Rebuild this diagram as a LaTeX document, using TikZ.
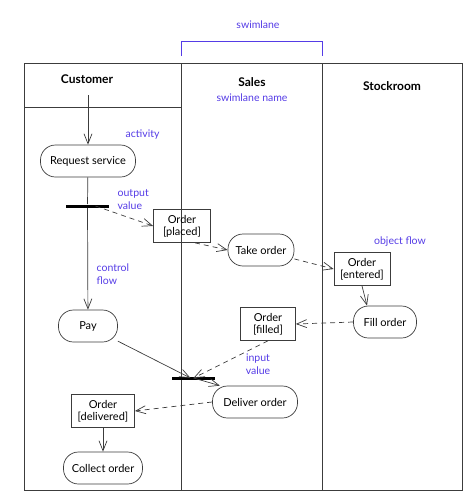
\documentclass[tikz,border=0pt]{standalone}
\usepackage{fontspec}
\setmainfont{Lato}
\usetikzlibrary{arrows.meta}
\definecolor{notecol}{RGB}{85,60,230}
\definecolor{linecol}{RGB}{60,60,60}
\tikzset{
    activity/.style={draw=linecol, rounded corners=15pt, minimum height=32pt, inner xsep=6pt, font=\fontsize{11}{13}\selectfont},
    objbox/.style={draw=linecol, align=center, minimum height=33pt, inner xsep=3pt, inner ysep=2pt, font=\fontsize{11}{12}\selectfont},
    note/.style={text=notecol, font=\fontsize{10.5}{13}\selectfont},
    lanehead/.style={font=\bfseries\fontsize{12}{14}\selectfont},
    syncbar/.style={fill=black, minimum width=43pt, minimum height=3pt, inner sep=0pt},
    flow/.style={draw=linecol, -{Straight Barb[length=10pt,width=8pt]}},
    objflow/.style={flow, dashed, dash pattern=on 5pt off 4pt}
}

\begin{document}
\begin{tikzpicture}[x=1pt, y=-1pt, line width=0.7pt]
            \useasboundingbox (0,0) rectangle (474,499);
            % swimlanes
            \draw[linecol] (24,63) rectangle (462,490);
            \draw[linecol] (181,63) -- (181,490);
            \draw[linecol] (322,63) -- (322,490);
            \draw[linecol] (24,107) -- (181,107);
            \draw[notecol] (181,56) -- (181,41) -- (322,41) -- (322,56);
            \node[note] (lanelbl) at (258,25) {swimlane};
            \node[note] (namelbl) at (252,98) {swimlane name};
            \node[lanehead] (customer) at (87,79) {Customer};
            \node[lanehead] (sales) at (252,82) {Sales};
            \node[lanehead] (stockroom) at (392,86) {Stockroom};

            % activities and objects
            \coordinate (start) at (88,95);
            \node[activity, minimum width=95pt] (request) at (88,161) {Request service};
            \node[syncbar] (fork) at (87.5,206) {};
            \node[objbox, minimum width=57pt] (placed) at (182,226) {Order\\\relax[placed]};
            \node[activity, minimum width=66pt] (take) at (261,250) {Take order};
            \node[objbox, minimum width=56pt] (entered) at (362,269) {Order\\\relax[entered]};
            \node[activity, minimum width=63pt] (fill) at (385,322) {Fill order};
            \node[objbox, minimum width=55pt] (filled) at (268,324) {Order\\\relax[filled]};
            \node[activity, minimum width=59pt] (pay) at (88,326) {Pay};
            \node[syncbar] (join) at (193.5,378) {};
            \node[activity, minimum width=85pt] (deliver) at (255,402) {Deliver order};
            \node[objbox, minimum width=63pt] (delivered) at (103,411) {Order\\\relax[delivered]};
            \node[activity, minimum width=79pt] (collect) at (103,468) {Collect order};

            % notes
            \node[note, align=left, anchor=west] (activitylbl) at (122,135) {activity};
            \node[note, align=left, anchor=west] (outlbl) at (114,200) {output\\value};
            \node[note, align=left, anchor=west] (ctrllbl) at (93,274) {control\\flow};
            \node[note] (objlbl) at (400,242) {object flow};
            \node[note, align=center] (inlbl) at (258,364) {input\\value};

            % flows
            \draw[flow] (start) -- (request);
            \draw[draw=linecol] (request) -- (fork);
            \draw[flow] (fork) -- (pay);
            \draw[objflow] ([xshift=8pt]fork.center) -- (placed.west);
            \draw[objflow] ([xshift=13pt]placed.south) -- (take.west);
            \draw[objflow] (take.-15) -- (entered.west);
            \draw[flow] (entered.south) -- ([xshift=-18pt]fill.north);
            \draw[objflow] (fill.west) -- (filled.east);
            \draw[flow] (pay) -- ([xshift=-3pt]join.center);
            \draw[objflow] (filled.south) -- (join.center);
            \draw[flow] (join.center) -- (deliver.155);
            \draw[objflow] (deliver.west) -- (delivered.east);
            \draw[flow] (delivered) -- (collect);
\end{tikzpicture}
\end{document}
